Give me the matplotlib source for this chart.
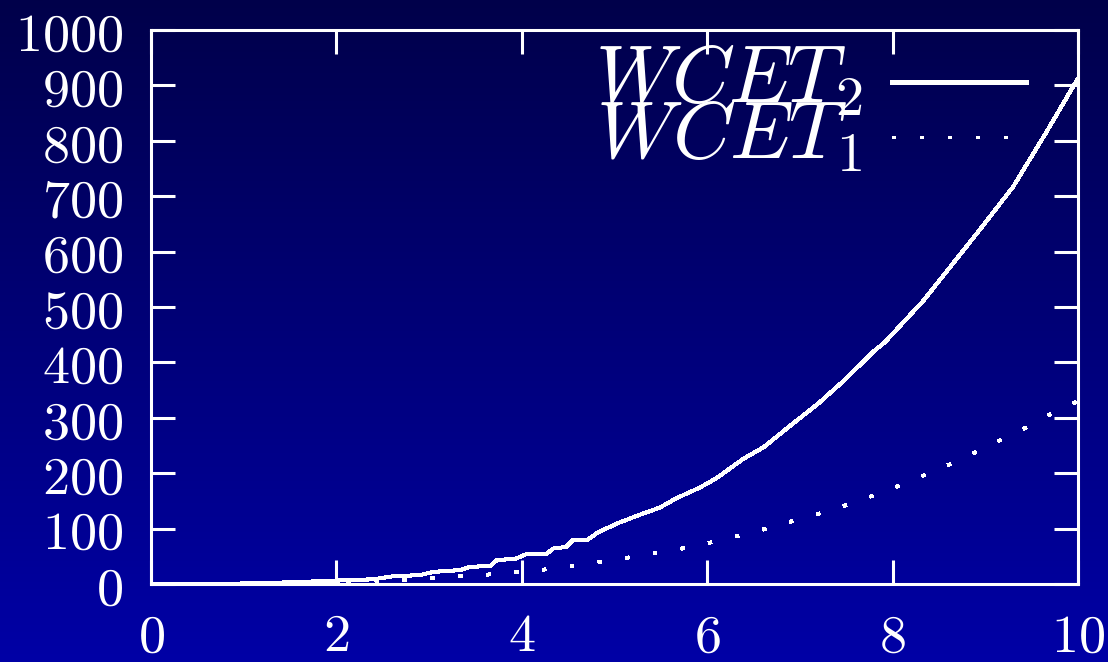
import numpy as np
import matplotlib
matplotlib.use("Agg")
import matplotlib.pyplot as plt
from matplotlib.colors import LinearSegmentedColormap
from matplotlib.lines import Line2D
from matplotlib.ticker import FixedLocator, FuncFormatter

plt.rcParams["mathtext.fontset"] = "cm"

# Worst-case execution time curves
x_wcet2 = [0, 0.5, 1.0, 1.5, 1.97, 2.40, 2.61, 2.90, 3.05, 3.33, 3.44, 3.66, 3.73,
           3.94, 4.05, 4.27, 4.34, 4.48, 4.55, 4.70, 4.83, 5.04, 5.24, 5.49, 5.67,
           5.92, 6.10, 6.39, 6.61, 6.89, 7.20, 7.50, 7.79, 7.92, 8.33, 8.91, 9.30,
           9.66, 9.99]
y_wcet2 = [0, 0.1, 0.9, 3, 6, 8.5, 14, 16, 22, 25, 31, 32.5, 43,
           46, 54, 55, 64, 67, 79, 79, 94, 110, 123, 138, 155,
           174, 191, 226, 247, 285, 326, 371, 419, 437, 511, 633, 717,
           816, 910]

x_wcet1 = [0, 1.0, 2.07, 2.37, 2.67, 2.97, 3.27, 3.56, 3.85, 4.16, 4.45, 4.74,
           5.04, 5.33, 5.62, 5.92, 6.20, 6.49, 6.78, 7.06, 7.35, 7.63, 7.91,
           8.18, 8.46, 8.73, 9.00, 9.27, 9.53, 9.79, 10.0]
y_wcet1 = [0, 0.5, 4, 4, 7.2, 10.3, 13.9, 15.7, 21, 24.7, 30, 37,
           44.6, 53, 60.8, 69.8, 82, 93, 107, 120, 134, 150, 167,
           185, 205, 224, 247, 268, 290, 315, 330]

x_ticks = [0, 2, 4, 6, 8, 10]
y_ticks = [0, 100, 200, 300, 400, 500, 600, 700, 800, 900, 1000]
labels = [r"$WCET_2$", r"$WCET_1$"]

fg = "white"
fig = plt.figure(figsize=(11.08, 6.62), dpi=100)

# vertical gradient background
bg = fig.add_axes([0, 0, 1, 1], zorder=-10)
grad = np.linspace(0, 1, 256).reshape(-1, 1)
cmap = LinearSegmentedColormap.from_list("bgblue", ["#00004a", "#0000a6"])
bg.imshow(grad, aspect="auto", cmap=cmap, extent=[0, 1, 1, 0])
bg.set_axis_off()

ax = fig.add_axes([151 / 1108, 78 / 662, 927 / 1108, 554 / 662])
ax.set_facecolor("none")

ax.plot(x_wcet2, y_wcet2, color=fg, lw=2.2, antialiased=False, solid_joinstyle="miter")
ax.plot(x_wcet1, y_wcet1, color=fg, lw=2.2, antialiased=False,
        linestyle=(0, (1, 8)), dash_capstyle="butt")

ax.set_xlim(0, 10)
ax.set_ylim(0, 1000)

ax.xaxis.set_major_locator(FixedLocator(x_ticks))
ax.yaxis.set_major_locator(FixedLocator(y_ticks))
fmt = FuncFormatter(lambda v, p: rf"${v:g}$")
ax.xaxis.set_major_formatter(fmt)
ax.yaxis.set_major_formatter(fmt)

ax.tick_params(axis="both", which="major", direction="in", length=17, width=2.2,
               color=fg, labelcolor=fg, labelsize=39,
               top=True, right=True)
ax.tick_params(axis="x", pad=19)
ax.tick_params(axis="y", pad=20)

for sp in ax.spines.values():
    sp.set_color(fg)
    sp.set_linewidth(2.2)

# key: labels on the left, line samples on the right
styles = [dict(linestyle="-"), dict(linestyle=(0, (1, 8)), dash_capstyle="butt")]
rows_y = [0.906, 0.807]
text_y = [0.870, 0.769]
for lab, st, ly, ty in zip(labels, styles, rows_y, text_y):
    ax.text(0.767, ty, lab, transform=ax.transAxes, ha="right", va="baseline",
            fontsize=58, color=fg)
    ax.add_line(Line2D([0.799, 0.944], [ly, ly], transform=ax.transAxes,
                       color=fg, lw=2.2, antialiased=False, **st))

fig.savefig("out.png", dpi=100)
